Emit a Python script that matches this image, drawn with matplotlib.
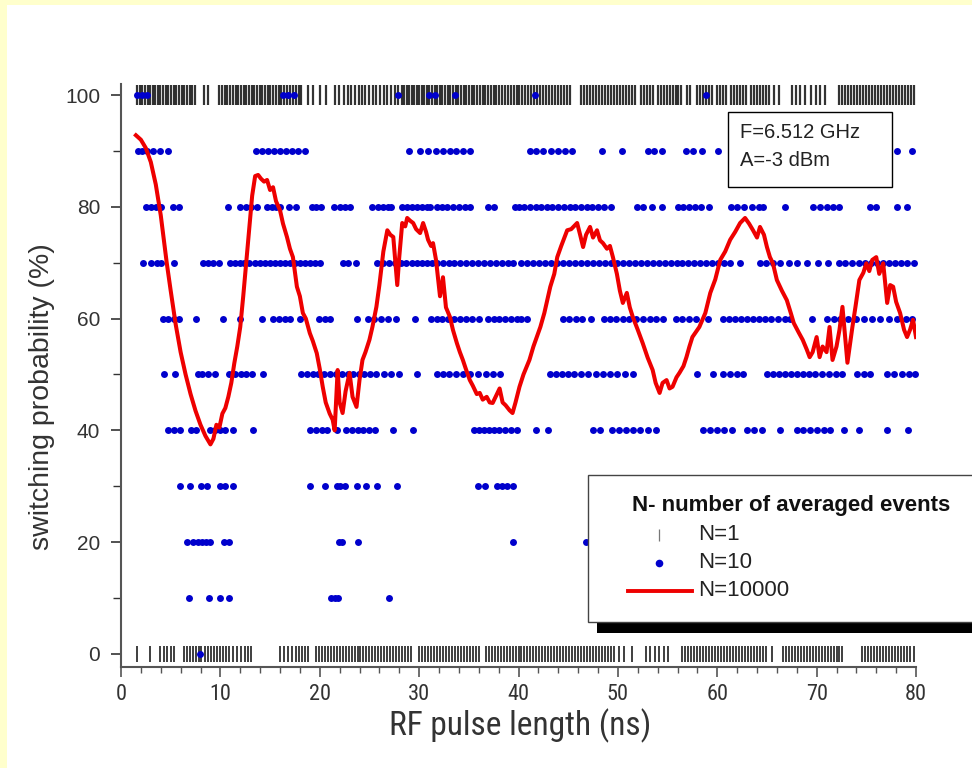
import matplotlib
matplotlib.use("Agg")
import matplotlib.pyplot as plt
from matplotlib.lines import Line2D
from matplotlib.patches import Rectangle
from matplotlib.ticker import MultipleLocator

W, H = 972, 768

# N=1 single events: x positions (ns) of switched (100 %) and not switched (0 %)
single_hi_x = [
    1.6, 1.9, 2.1, 2.4, 2.7, 2.9, 3.2, 3.4, 3.7, 3.9, 4.2, 4.5, 4.7, 5.0, 5.3, 5.5,
    5.8, 6.1, 6.3, 6.6, 6.9, 7.1, 7.4, 8.4, 8.8,
    9.9, 10.2, 10.5, 10.7, 11.0, 11.3, 11.6, 11.8, 12.1, 12.4, 12.6, 12.9, 13.2, 13.4,
    13.7, 14.0, 14.2, 14.5, 14.8, 15.0, 15.3, 15.6, 15.9, 16.1, 16.4, 16.7, 17.0, 17.3,
    17.6, 17.9, 18.1, 18.8, 19.3, 20.0, 20.6,
    21.5, 21.9, 22.4, 22.8, 23.1, 23.5, 23.9, 24.3, 24.6, 25.0, 25.4, 25.7, 26.1, 26.5,
    26.8, 27.2, 27.6, 27.9, 28.3, 28.5, 28.8, 29.0, 29.3, 29.5, 29.8, 30.0, 30.3, 30.5,
    30.8, 31.0, 31.3, 31.6, 31.8, 32.1, 32.3, 32.6, 32.9, 33.1, 33.4, 33.7, 33.9, 34.2,
    34.5, 34.7, 35.0, 35.3, 35.5, 35.8, 36.1, 36.4, 36.6, 36.9, 37.2, 37.5, 37.7, 38.0,
    38.3, 38.6, 38.9, 39.2, 39.5, 39.8, 40.1, 40.4, 40.7, 41.0, 41.3, 41.6, 41.9, 42.2,
    42.5, 42.8, 43.1, 43.4, 43.7, 44.0, 44.3, 44.6, 44.9, 45.2, 46.3, 46.6, 46.9, 47.2,
    47.5, 47.8, 48.1, 48.4, 48.7, 49.0, 49.3, 49.6, 49.9, 50.2, 50.5, 50.8, 51.1, 51.4,
    51.7, 52.3, 52.6, 52.9, 53.2, 53.5, 54.0, 54.3, 54.6, 54.9, 55.2, 55.5, 55.8, 56.1,
    56.4, 57.0, 57.3, 58.0, 58.3, 58.6, 58.9, 59.2, 59.5, 60.0, 60.3, 60.6, 60.9, 61.4,
    61.7, 62.0, 62.3, 62.6, 62.9, 63.4, 63.7, 64.0, 64.3, 64.6, 64.9, 65.2, 65.7, 66.2,
    67.5, 67.9, 68.3, 68.8, 69.4, 69.9, 70.3, 70.8,
    72.3, 72.6, 72.9, 73.2, 73.5, 73.8, 74.1, 74.4, 74.7, 75.0, 75.3, 75.6, 75.9, 76.2,
    76.5, 76.8, 77.1, 77.4, 77.7, 78.0, 78.3, 78.6, 78.9, 79.2, 79.5, 79.8,
]
single_lo_x = [
    1.6, 2.9, 3.9, 4.3, 4.6, 5.0, 5.3, 6.3, 6.6, 6.9, 7.2, 7.5, 7.8, 8.1, 8.5, 8.8, 9.1,
    9.4, 9.7, 10.0, 10.3, 10.6, 10.9, 11.3, 11.7, 12.1, 12.5, 12.8, 13.1,
    16.0, 16.4, 16.8, 17.2, 17.6, 17.9, 18.2, 18.5, 18.8, 19.6, 19.9, 20.2, 20.5, 20.8,
    21.1, 21.4, 21.7, 22.0, 22.3, 22.6, 22.9, 23.2, 23.5, 23.8, 24.1, 24.4, 24.7, 25.0,
    25.3, 25.6, 25.9, 26.2, 26.5, 26.8, 27.1, 27.4, 27.7, 28.0, 28.3, 28.6, 28.9, 29.2,
    30.0, 30.3, 30.6, 30.9, 31.2, 31.5, 31.8, 32.1, 32.4, 32.7, 33.0, 33.3, 33.6, 33.9,
    34.2, 34.5, 34.8, 35.1, 35.4, 35.7, 36.0, 36.7, 37.0, 37.3, 37.6, 37.9, 38.2, 38.5,
    38.8, 39.1, 39.4, 39.7, 40.0, 40.3, 40.6, 40.9, 41.2, 41.5, 41.8, 42.1, 42.4, 42.7,
    43.0, 43.3, 43.6, 43.9, 44.2, 44.5, 44.8, 45.1, 45.4, 45.7, 46.0, 46.3, 46.6, 46.9,
    47.2, 47.5, 47.8, 48.1, 48.4, 48.7, 49.0, 49.3, 49.6, 50.1, 50.6, 51.4,
    52.8, 53.2, 53.7, 54.1, 54.6, 55.0,
    56.5, 56.8, 57.1, 57.4, 57.7, 58.0, 58.3, 58.6, 58.9, 59.2, 59.5, 59.8, 60.1, 60.4,
    60.7, 61.0, 61.3, 61.6, 61.9, 62.2, 62.5, 62.8, 63.1, 63.4, 63.7, 64.0, 64.3, 64.6,
    64.9, 65.5, 66.6, 66.9, 67.2, 67.5, 67.8, 68.1, 68.4, 68.7, 69.0, 69.3, 69.6, 69.9,
    70.2, 70.5, 70.8, 71.1, 71.4, 71.7, 72.0, 72.3, 72.6,
    74.6, 74.9, 75.2, 75.5, 75.8, 76.1, 76.4, 76.7, 77.0, 77.3, 77.6, 77.9, 78.2, 78.5,
    78.8, 79.1, 79.4, 79.8,
]

# N=10 averages: x positions (ns) for each probability level (%)
avg10 = {
    100: [1.6, 2.1, 2.6, 16.3, 16.8, 17.4, 27.9, 31.0, 31.6, 33.6, 41.7, 58.9],
    90: [1.7, 2.1, 2.6, 3.2, 3.9, 4.7, 13.6, 14.2, 14.8, 15.4, 16.0, 16.6, 17.2, 17.8,
         18.5, 29.0, 30.1, 30.9, 31.7, 32.4, 33.1, 33.7, 34.4, 35.1, 41.2, 41.8, 42.5,
         43.3, 44.0, 44.7, 45.4, 48.4, 50.4, 53.0, 53.6, 54.4, 56.9, 57.6, 58.5, 60.1,
         78.1, 79.6],
    80: [2.5, 3.0, 3.5, 4.0, 5.2, 5.8, 10.8, 12.0, 12.6, 13.1, 13.7, 14.7, 15.2, 15.6,
         16.0, 16.9, 17.6, 19.2, 19.6, 20.1, 21.4, 22.0, 22.5, 23.0, 25.3, 25.9, 26.4,
         26.9, 27.2, 28.3, 28.8, 29.3, 29.8, 30.3, 30.8, 31.1, 31.8, 32.3, 32.8, 33.4,
         34.0, 34.6, 35.1, 36.9, 37.5, 39.6, 40.1, 40.6, 41.2, 41.8, 42.3, 42.9, 43.4,
         44.0, 44.6, 45.2, 45.7, 46.3, 46.9, 47.4, 48.0, 48.6, 49.3, 51.9, 52.5, 53.4,
         54.4, 56.0, 56.6, 57.2, 57.8, 58.4, 59.2, 61.4, 62.0, 62.7, 63.5, 64.2, 64.6,
         66.8, 69.6, 70.3, 71.0, 71.6, 72.3, 75.4, 76.0, 78.1, 79.1],
    70: [2.2, 3.0, 3.6, 4.0, 5.3, 8.3, 8.8, 9.3, 9.9, 11.0, 11.5, 12.0, 12.4, 12.9,
         13.5, 14.0, 14.5, 15.0, 15.5, 16.0, 16.5, 17.0, 17.5, 18.0, 18.5, 19.0, 19.5,
         20.0, 22.3, 22.8, 23.6, 25.8, 26.4, 27.0, 27.6, 28.2, 28.7, 29.3, 29.8, 30.3,
         30.8, 31.3, 31.8, 32.4, 33.0, 33.5, 34.1, 34.7, 35.3, 35.9, 36.5, 37.1, 37.7,
         38.3, 38.9, 39.4, 40.3, 40.9, 41.5, 42.1, 42.7, 43.3, 43.9, 44.5, 45.1, 45.7,
         46.3, 46.9, 47.5, 48.1, 48.7, 49.3, 49.9, 50.5, 51.1, 51.7, 52.3, 52.9, 53.5,
         54.1, 54.7, 55.3, 55.9, 56.5, 57.1, 57.7, 58.3, 58.9, 59.5, 60.1, 60.7, 61.3,
         62.3, 64.3, 64.9, 65.6, 66.3, 67.2, 68.0, 69.0, 70.1, 71.1, 72.3, 72.9, 73.6,
         74.3, 74.9, 75.5, 76.1, 76.7, 77.3, 77.9, 78.5, 79.1, 79.8],
    60: [4.2, 4.7, 5.3, 5.8, 7.5, 10.3, 12.0, 14.2, 15.3, 15.9, 16.5, 17.0, 18.0, 19.9,
         20.5, 21.0, 23.7, 24.9, 25.5, 26.2, 26.9, 27.7, 29.6, 31.2, 31.8, 32.3, 32.9,
         33.5, 34.1, 34.7, 35.3, 36.0, 36.9, 37.5, 38.0, 38.6, 39.2, 39.8, 40.3, 40.9,
         44.5, 45.1, 45.8, 46.4, 47.3, 48.6, 49.2, 49.8, 50.5, 51.1, 51.8, 52.5, 53.2,
         53.8, 54.5, 55.8, 56.5, 57.2, 57.9, 59.1, 60.6, 61.2, 61.8, 62.4, 63.0, 63.6,
         64.2, 64.8, 65.4, 66.1, 66.8, 67.3, 69.5, 71.0, 71.7, 72.4, 73.2, 74.0, 74.8,
         75.6, 76.4, 77.3, 78.1, 79.0, 79.6],
    50: [4.3, 5.4, 7.7, 8.2, 8.8, 9.5, 10.9, 11.5, 12.1, 12.6, 13.2, 14.3, 18.1, 18.7,
         19.3, 19.8, 20.4, 21.0, 21.6, 22.2, 22.8, 23.3, 23.9, 24.5, 25.1, 25.7, 26.5,
         27.2, 28.0, 29.8, 31.8, 32.4, 33.0, 33.7, 34.4, 35.1, 35.9, 36.7, 37.4, 38.1,
         43.2, 43.8, 44.4, 45.0, 45.6, 46.3, 47.0, 47.8, 48.5, 49.2, 49.9, 50.7, 51.5,
         58.0, 59.6, 60.6, 61.3, 62.0, 62.6, 65.0, 65.6, 66.2, 66.8, 67.4, 68.0, 68.6,
         69.2, 69.8, 70.5, 71.2, 71.9, 72.6, 74.1, 74.8, 75.4, 77.1, 77.8, 78.6, 79.3,
         79.9],
    40: [4.7, 5.3, 5.9, 7.0, 7.5, 9.0, 9.5, 10.0, 10.5, 11.3, 13.3, 19.0, 19.6, 20.2,
         20.7, 21.7, 22.6, 23.2, 23.8, 24.4, 25.0, 25.6, 27.4, 29.4, 35.5, 36.0, 36.5,
         37.0, 37.5, 38.0, 38.6, 39.2, 39.8, 41.8, 43.0, 47.5, 48.2, 49.4, 50.1, 50.8,
         51.5, 52.2, 53.0, 53.8, 58.6, 59.3, 60.0, 60.7, 61.5, 63.0, 63.7, 64.5, 66.3,
         68.0, 68.6, 69.3, 70.0, 70.7, 71.3, 72.8, 74.3, 77.1, 79.2],
    30: [5.9, 6.9, 8.1, 8.7, 10.0, 10.5, 11.3, 19.0, 20.5, 21.7, 22.0, 22.5, 23.7, 24.7,
         25.8, 27.8, 35.9, 36.6, 37.8, 38.3, 38.8, 39.4],
    20: [6.6, 7.2, 7.7, 8.2, 8.6, 9.0, 10.4, 10.9, 21.9, 22.2, 23.8, 39.4, 46.8],
    10: [6.8, 8.9, 10.0, 10.9, 21.1, 21.5, 21.8, 27.0],
    0: [7.9],
}

# N=10000 averaged switching probability (%)
avg_x = [
    1.5, 2.0, 2.5, 3.0, 3.5, 4.0, 4.6, 5.0, 5.5, 6.0, 6.5, 7.0, 7.5, 8.0, 8.5, 9.0,
    9.3, 9.6, 9.9, 10.2, 10.5, 10.8, 11.1, 11.4, 11.7, 12.0, 12.3, 12.6, 12.9, 13.2,
    13.5, 13.8, 14.1, 14.4, 14.7, 15.0, 15.3, 15.6, 16.0, 16.3, 16.7, 17.0, 17.3, 17.7,
    18.0, 18.3, 18.6, 19.0, 19.3, 19.7, 20.0, 20.3, 20.6, 21.0, 21.3, 21.5, 21.8, 22.0,
    22.3, 22.6, 23.0, 23.3, 23.7, 24.0, 24.3, 24.6, 25.0, 25.3, 25.7, 26.0, 26.4, 26.8,
    27.1, 27.4, 27.8, 28.0, 28.3, 28.6, 28.8, 29.1, 29.4, 29.7, 30.1, 30.4, 30.7, 30.9,
    31.2, 31.4, 31.7, 32.1, 32.4, 32.7, 33.1, 33.4, 33.8, 34.1, 34.4, 34.7, 35.1, 35.4,
    35.8, 36.1, 36.4, 36.8, 37.1, 37.4, 37.7, 38.1, 38.4, 38.7, 39.1, 39.4, 39.7, 40.1,
    40.5, 41.1, 41.5, 42.2, 42.6, 43.2, 43.6, 43.9, 44.3, 44.9, 45.3, 45.9, 46.2, 46.5,
    46.8, 47.2, 47.5, 47.9, 48.2, 48.5, 48.9, 49.2, 49.5, 49.9, 50.2, 50.5, 50.9, 51.2,
    51.5, 52.0, 52.5, 53.0, 53.5, 53.8, 54.2, 54.5, 54.9, 55.2, 55.5, 55.9, 56.2, 56.6,
    56.9, 57.2, 57.5, 58.2, 58.8, 59.3, 59.8, 60.3, 60.8, 61.3, 61.8, 62.3, 62.8, 63.2,
    63.6, 64.0, 64.3, 64.7, 65.0, 65.3, 65.6, 66.0, 66.5, 67.0, 67.4, 67.7, 68.2, 68.6,
    69.0, 69.3, 69.6, 70.0, 70.3, 70.6, 71.0, 71.3, 71.6, 72.0, 72.3, 72.6, 73.1, 73.4,
    73.6, 73.9, 74.3, 74.7, 75.0, 75.3, 75.6, 76.0, 76.3, 76.7, 77.1, 77.4, 77.7, 78.0,
    78.4, 78.8, 79.1, 79.4, 79.7, 80.0,
]
avg_p = [
    92.8, 92.0, 90.5, 88.0, 84.0, 78.5, 70.0, 65.0, 59.0, 54.0, 50.0, 46.5, 43.5, 41.0,
    39.0, 37.5, 38.5, 41.0, 40.5, 43.0, 44.0, 46.0, 48.5, 52.0, 55.0, 58.5, 64.0, 70.0,
    76.0, 82.0, 85.5, 85.7, 85.0, 84.5, 84.8, 83.0, 83.5, 81.0, 79.4, 77.0, 74.6, 72.5,
    71.0, 65.7, 64.0, 61.0, 60.0, 57.4, 56.0, 53.8, 51.0, 47.8, 45.0, 43.0, 41.9, 40.0,
    50.8, 45.0, 43.1, 47.0, 50.3, 46.0, 44.2, 49.0, 52.6, 54.0, 56.2, 58.5, 62.1, 66.0,
    72.0, 75.8, 75.0, 74.6, 66.0, 71.0, 77.1, 76.5, 78.0, 77.5, 77.1, 76.0, 75.3, 77.1,
    75.5, 74.1, 73.0, 73.5, 70.5, 64.0, 67.4, 62.0, 60.3, 58.0, 55.6, 54.0, 52.6, 51.0,
    49.0, 48.0, 46.5, 46.7, 45.5, 46.0, 45.0, 44.9, 46.0, 47.5, 45.0, 44.5, 43.6, 43.1,
    45.0, 47.8, 50.0, 52.6, 55.0, 58.5, 61.0, 65.7, 68.0, 71.0, 73.0, 75.8, 76.0, 77.1,
    75.0, 72.8, 75.0, 76.4, 74.5, 75.8, 74.0, 73.5, 72.5, 73.0, 71.0, 68.0, 65.0, 62.8,
    64.6, 62.0, 60.3, 58.0, 55.6, 53.0, 50.8, 48.5, 46.7, 48.5, 49.0, 47.5, 47.8, 49.5,
    50.3, 51.5, 53.1, 55.0, 56.7, 58.5, 61.0, 64.6, 67.0, 70.5, 72.0, 74.1, 75.5, 77.1,
    78.0, 77.0, 75.8, 74.5, 76.4, 75.0, 72.8, 71.0, 69.9, 66.9, 65.0, 63.3, 61.0, 59.2,
    57.5, 56.2, 54.5, 53.1, 54.0, 56.7, 53.1, 55.0, 54.0, 58.5, 52.6, 55.0, 58.0, 62.1,
    52.1, 56.0, 58.5, 62.0, 66.9, 68.2, 69.9, 68.5, 70.5, 71.0, 68.0, 69.9, 62.8, 66.0,
    65.7, 63.0, 61.0, 58.0, 56.7, 58.0, 59.8, 56.7,
]

annotation_lines = ["F=6.512 GHz", "A=-3 dBm"]
legend_title = "N- number of averaged events"
legend_labels = ["N=1", "N=10", "N=10000"]

BLUE = "#0000cc"
RED = "#ee0000"
REGULAR = ["Liberation Sans", "DejaVu Sans"]
NARROW = ["Roboto Condensed", "Liberation Sans"]


def fx(px):
    return px / W


def fy(py):
    return 1 - py / H


fig = plt.figure(figsize=(W / 100, H / 100), dpi=100, facecolor="#ffffcc")
fig.patches.append(Rectangle((fx(7), 0), 1, fy(5), transform=fig.transFigure,
                             facecolor="white", edgecolor="none", zorder=-10))

ax = fig.add_axes([fx(121), fy(667), fx(916) - fx(121), fy(84) - fy(667)])
ax.set_facecolor("none")

ax.plot(single_hi_x, [100] * len(single_hi_x), linestyle="none", marker="|",
        markersize=15, markeredgewidth=1.6, color="black", alpha=0.8, clip_on=False, zorder=2)
ax.plot(single_lo_x, [0] * len(single_lo_x), linestyle="none", marker="|",
        markersize=12, markeredgewidth=1.4, color="black", alpha=0.75, clip_on=False, zorder=2)

for level, xs in avg10.items():
    ax.plot(xs, [level] * len(xs), linestyle="none", marker="o", markersize=5,
            color=BLUE, markeredgewidth=0, clip_on=False, zorder=3)

ax.plot(avg_x, avg_p, color=RED, linewidth=2.9, zorder=4)

ax.set_xlim(0, 80)
ax.set_ylim(-2.33, 101.97)
ax.xaxis.set_major_locator(MultipleLocator(10))
ax.xaxis.set_minor_locator(MultipleLocator(2))
ax.yaxis.set_major_locator(MultipleLocator(20))
ax.yaxis.set_minor_locator(MultipleLocator(10))

for side in ["top", "right"]:
    ax.spines[side].set_visible(False)
for side in ["left", "bottom"]:
    ax.spines[side].set_color("#555555")
    ax.spines[side].set_linewidth(1.5)

ax.tick_params(axis="x", which="major", direction="out", length=7, width=1.2,
               color="#555555", pad=5, labelsize=16)
ax.tick_params(axis="x", which="minor", direction="out", length=4, width=1.0, color="#555555")
ax.tick_params(axis="y", which="major", direction="out", length=7, width=1.2,
               color="#333333", pad=8, labelsize=15)
ax.tick_params(axis="y", which="minor", direction="out", length=6, width=1.0, color="#333333")
for lbl in ax.get_xticklabels():
    lbl.set_fontfamily(NARROW)
    lbl.set_color("#333333")
for lbl in ax.get_yticklabels():
    lbl.set_fontfamily(REGULAR)
    lbl.set_color("#333333")

fig.text(fx(520), fy(735), "RF pulse length (ns)", ha="center", va="baseline",
         fontsize=24, family=NARROW, color="#333333")
fig.text(fx(42), fy(397), "switching probability (%)", ha="center", va="center",
         rotation=90, fontsize=20.5, family=REGULAR, color="#333333")

# parameter box
fig.patches.append(Rectangle((fx(728), fy(187)), fx(892) - fx(728), fy(112) - fy(187),
                             transform=fig.transFigure, facecolor="white",
                             edgecolor="black", linewidth=1.0, zorder=5))
for i, line in enumerate(annotation_lines):
    fig.text(fx(740), fy(133 + 27 * i), line, ha="left", va="center", fontsize=14.5,
             family=REGULAR, color="#222222", zorder=6)

# legend with drop shadow
fig.patches.append(Rectangle((fx(597), fy(633)), 1, fy(622) - fy(633),
                             transform=fig.transFigure, facecolor="black",
                             edgecolor="none", zorder=5))
fig.patches.append(Rectangle((fx(588), fy(622)), 1, fy(475) - fy(622),
                             transform=fig.transFigure, facecolor="white",
                             edgecolor="#444444", linewidth=1.0, zorder=6))
fig.text(fx(632), fy(505), legend_title, ha="left", va="center", fontsize=16,
         fontweight="bold", family=REGULAR, color="#111111", zorder=7)
label_rows = [534, 562, 591]
for lab, row in zip(legend_labels, label_rows):
    fig.text(fx(698), fy(row), lab, ha="left", va="center", fontsize=16,
             family=REGULAR, color="#222222", zorder=7)
fig.lines.append(Line2D([fx(659)], [fy(535)], marker="|", markersize=8,
                        markeredgewidth=0.9, color="#777777", transform=fig.transFigure,
                        zorder=7))
fig.lines.append(Line2D([fx(659)], [fy(563)], marker="o", markersize=5.5, color=BLUE,
                        markeredgewidth=0, transform=fig.transFigure, zorder=7))
fig.lines.append(Line2D([fx(628), fx(692)], [fy(591), fy(591)], color=RED, linewidth=2.8,
                        transform=fig.transFigure, zorder=7))

fig.savefig("out.png", dpi=100, facecolor=fig.get_facecolor())
